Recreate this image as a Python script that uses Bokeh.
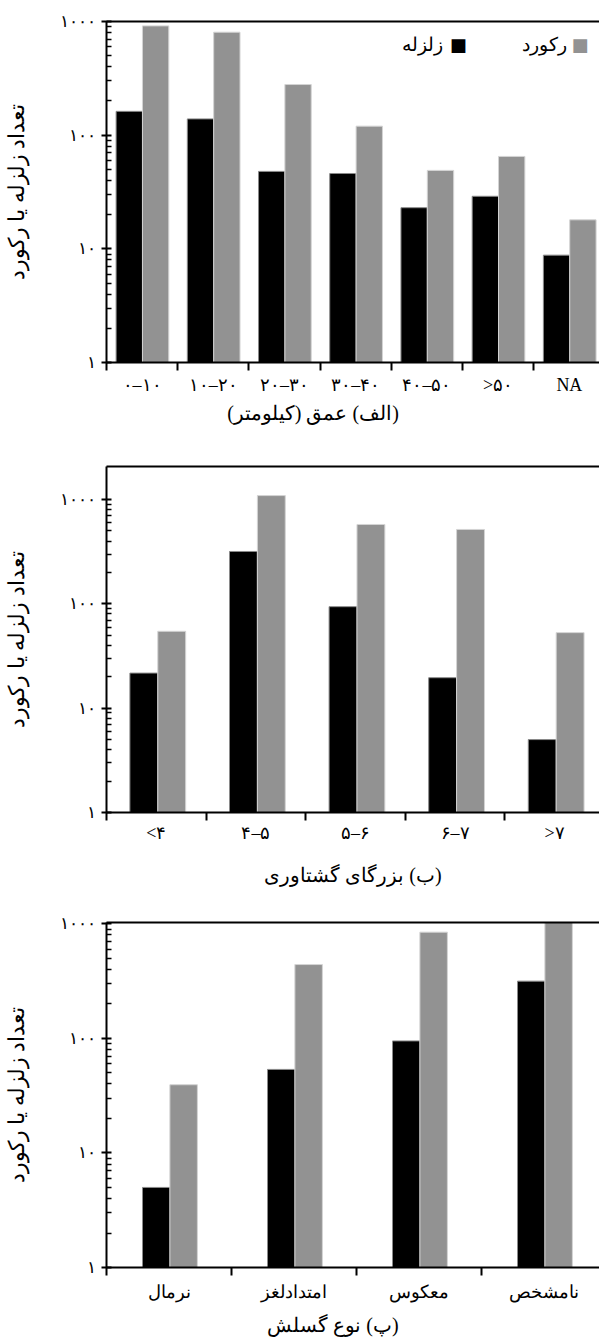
from bokeh.plotting import figure
from bokeh.models import Range1d, LinearAxis, FixedTicker, Label
from bokeh.layouts import column
from bokeh.embed import file_html
from bokeh.resources import INLINE

# ---------------- data ----------------
depth_cats = ["۰–۱۰", "۱۰–۲۰", "۲۰–۳۰", "۳۰–۴۰", "۴۰–۵۰", ">۵۰", "NA"]
depth_eq = [162, 139, 48, 46, 23, 29, 8.8]
depth_rec = [915, 805, 279, 120, 49, 65, 18]

mag_cats = ["<۴", "۴–۵", "۵–۶", "۶–۷", ">۷"]
mag_eq = [21.7, 318, 94, 19.6, 5.0]
mag_rec = [54.6, 1092, 577, 517, 53]

fault_cats = ["نرمال", "امتدادلغز", "معکوس", "نامشخص"]
fault_eq = [5.0, 53.6, 95, 316]
fault_rec = [39.4, 441, 846, 1100]

y_ticks = [1, 10, 100, 1000]
y_tick_labels = ["۱", "۱۰", "۱۰۰", "۱۰۰۰"]

series_names = ["زلزله", "رکورد"]
y_title = "تعداد زلزله یا رکورد"
RLM = "\u200f"
NBSP = "\u00a0"
x_titles = ["(الف) عمق (کیلومتر)", "(ب) بزرگای گشتاوری", "(پ) نوع گسلش"]

FONT = "Liberation Serif"
EQ_COLOR = "#000000"
REC_COLOR = "#929292"


def make_panel(cats, eq, rec, xtitle, ytop, x_end, bw, off_eq, off_rec,
               height, b_top, b_bottom, lab_standoff, title_standoff, title_pad):
    n = len(cats)
    p = figure(width=599, height=height, y_axis_type="log",
               x_range=Range1d(0, x_end), y_range=Range1d(1, ytop),
               output_backend="svg", toolbar_location=None,
               min_border_left=104, min_border_right=0,
               min_border_top=b_top, min_border_bottom=b_bottom)
    p.outline_line_color = None
    p.grid.visible = False
    p.background_fill_color = "white"

    xs_eq = [i + off_eq for i in range(n)]
    xs_rec = [i + off_rec for i in range(n)]
    p.vbar(x=xs_eq, top=eq, bottom=1, width=bw, fill_color=EQ_COLOR,
           line_color="#8a8a8a", line_width=1)
    p.vbar(x=xs_rec, top=rec, bottom=1, width=bw, fill_color=REC_COLOR,
           line_color="#d4d4d4", line_width=1)

    # x axis: ticks at category boundaries, labels at centres
    xa = p.xaxis[0]
    centers = [i + 0.5 for i in range(n)]
    xa.ticker = FixedTicker(ticks=centers, minor_ticks=list(range(n + 1)))
    xa.major_label_overrides = {c: lab for c, lab in zip(centers, cats)}
    xa.major_tick_in = 0
    xa.major_tick_out = 0
    xa.minor_tick_in = 0
    xa.minor_tick_out = 8
    xa.minor_tick_line_width = 2
    xa.minor_tick_line_color = "black"
    xa.axis_line_width = 2
    xa.axis_line_color = "black"
    xa.major_label_text_font = FONT
    xa.major_label_text_font_size = "18px"
    xa.major_label_text_color = "black"
    xa.major_label_standoff = lab_standoff
    # RLM forces right-to-left ordering; NBSP padding shifts the centred title left
    xa.axis_label = RLM + NBSP * title_pad + xtitle
    xa.axis_label_text_font = FONT
    xa.axis_label_text_font_size = "20px"
    xa.axis_label_text_font_style = "normal"
    xa.axis_label_text_color = "black"
    xa.axis_label_standoff = title_standoff

    # y axis (log)
    ya = p.yaxis[0]
    minors = [m * d for d in (1, 10, 100) for m in range(2, 10)]
    ya.ticker = FixedTicker(ticks=y_ticks, minor_ticks=minors)
    ya.major_label_overrides = {t: lab for t, lab in zip(y_ticks, y_tick_labels)}
    ya.major_tick_in = 5
    ya.major_tick_out = 5
    ya.minor_tick_in = 5
    ya.minor_tick_out = 0
    ya.major_tick_line_width = 2
    ya.minor_tick_line_width = 1.5
    ya.axis_line_width = 2
    ya.axis_line_color = "black"
    ya.major_tick_line_color = "black"
    ya.minor_tick_line_color = "black"
    ya.major_label_text_font = FONT
    ya.major_label_text_font_size = "17px"
    ya.major_label_text_color = "black"
    ya.major_label_standoff = 6
    ya.axis_label = y_title
    ya.axis_label_text_font = FONT
    ya.axis_label_text_font_size = "22px"
    ya.axis_label_text_font_style = "normal"
    ya.axis_label_text_color = "black"
    ya.axis_label_standoff = 28

    # top border line
    top_axis = LinearAxis(ticker=FixedTicker(ticks=[]), major_label_text_font_size="0px",
                          major_tick_out=0, major_tick_in=0, minor_tick_out=0,
                          minor_tick_in=0, axis_line_width=2, axis_line_color="black")
    p.add_layout(top_axis, "above")
    return p


p1 = make_panel(depth_cats, depth_eq, depth_rec, x_titles[0], 1000, 6.923,
                0.37, 0.32, 0.69, 440, 21, 78, 4, 4, 16)
p2 = make_panel(mag_cats, mag_eq, mag_rec, x_titles[1], 2075, 4.95,
                0.28, 0.375, 0.655, 455, 26, 83, 2, 18, 0)
p3 = make_panel(fault_cats, fault_eq, fault_rec, x_titles[2], 1027, 3.944,
                0.22, 0.398, 0.617, 447, 27, 75, 6, 9, 8)

# legend (panel 1): text to the left of the swatch
leg_y = 628
p1.add_layout(Label(x=4.94, y=leg_y, text="■", text_color=EQ_COLOR, text_font="DejaVu Sans",
                    text_font_size="18px", text_align="center", text_baseline="middle"))
p1.add_layout(Label(x=4.73, y=leg_y, text=series_names[0], text_color="black", text_font=FONT,
                    text_font_size="19px", text_align="right", text_baseline="middle"))
p1.add_layout(Label(x=6.65, y=leg_y, text="■", text_color=REC_COLOR, text_font="DejaVu Sans",
                    text_font_size="18px", text_align="center", text_baseline="middle"))
p1.add_layout(Label(x=6.46, y=leg_y, text=series_names[1], text_color="black", text_font=FONT,
                    text_font_size="19px", text_align="right", text_baseline="middle"))

layout = column(p1, p2, p3, spacing=0)
open("out.html", "w").write(file_html(layout, INLINE))
